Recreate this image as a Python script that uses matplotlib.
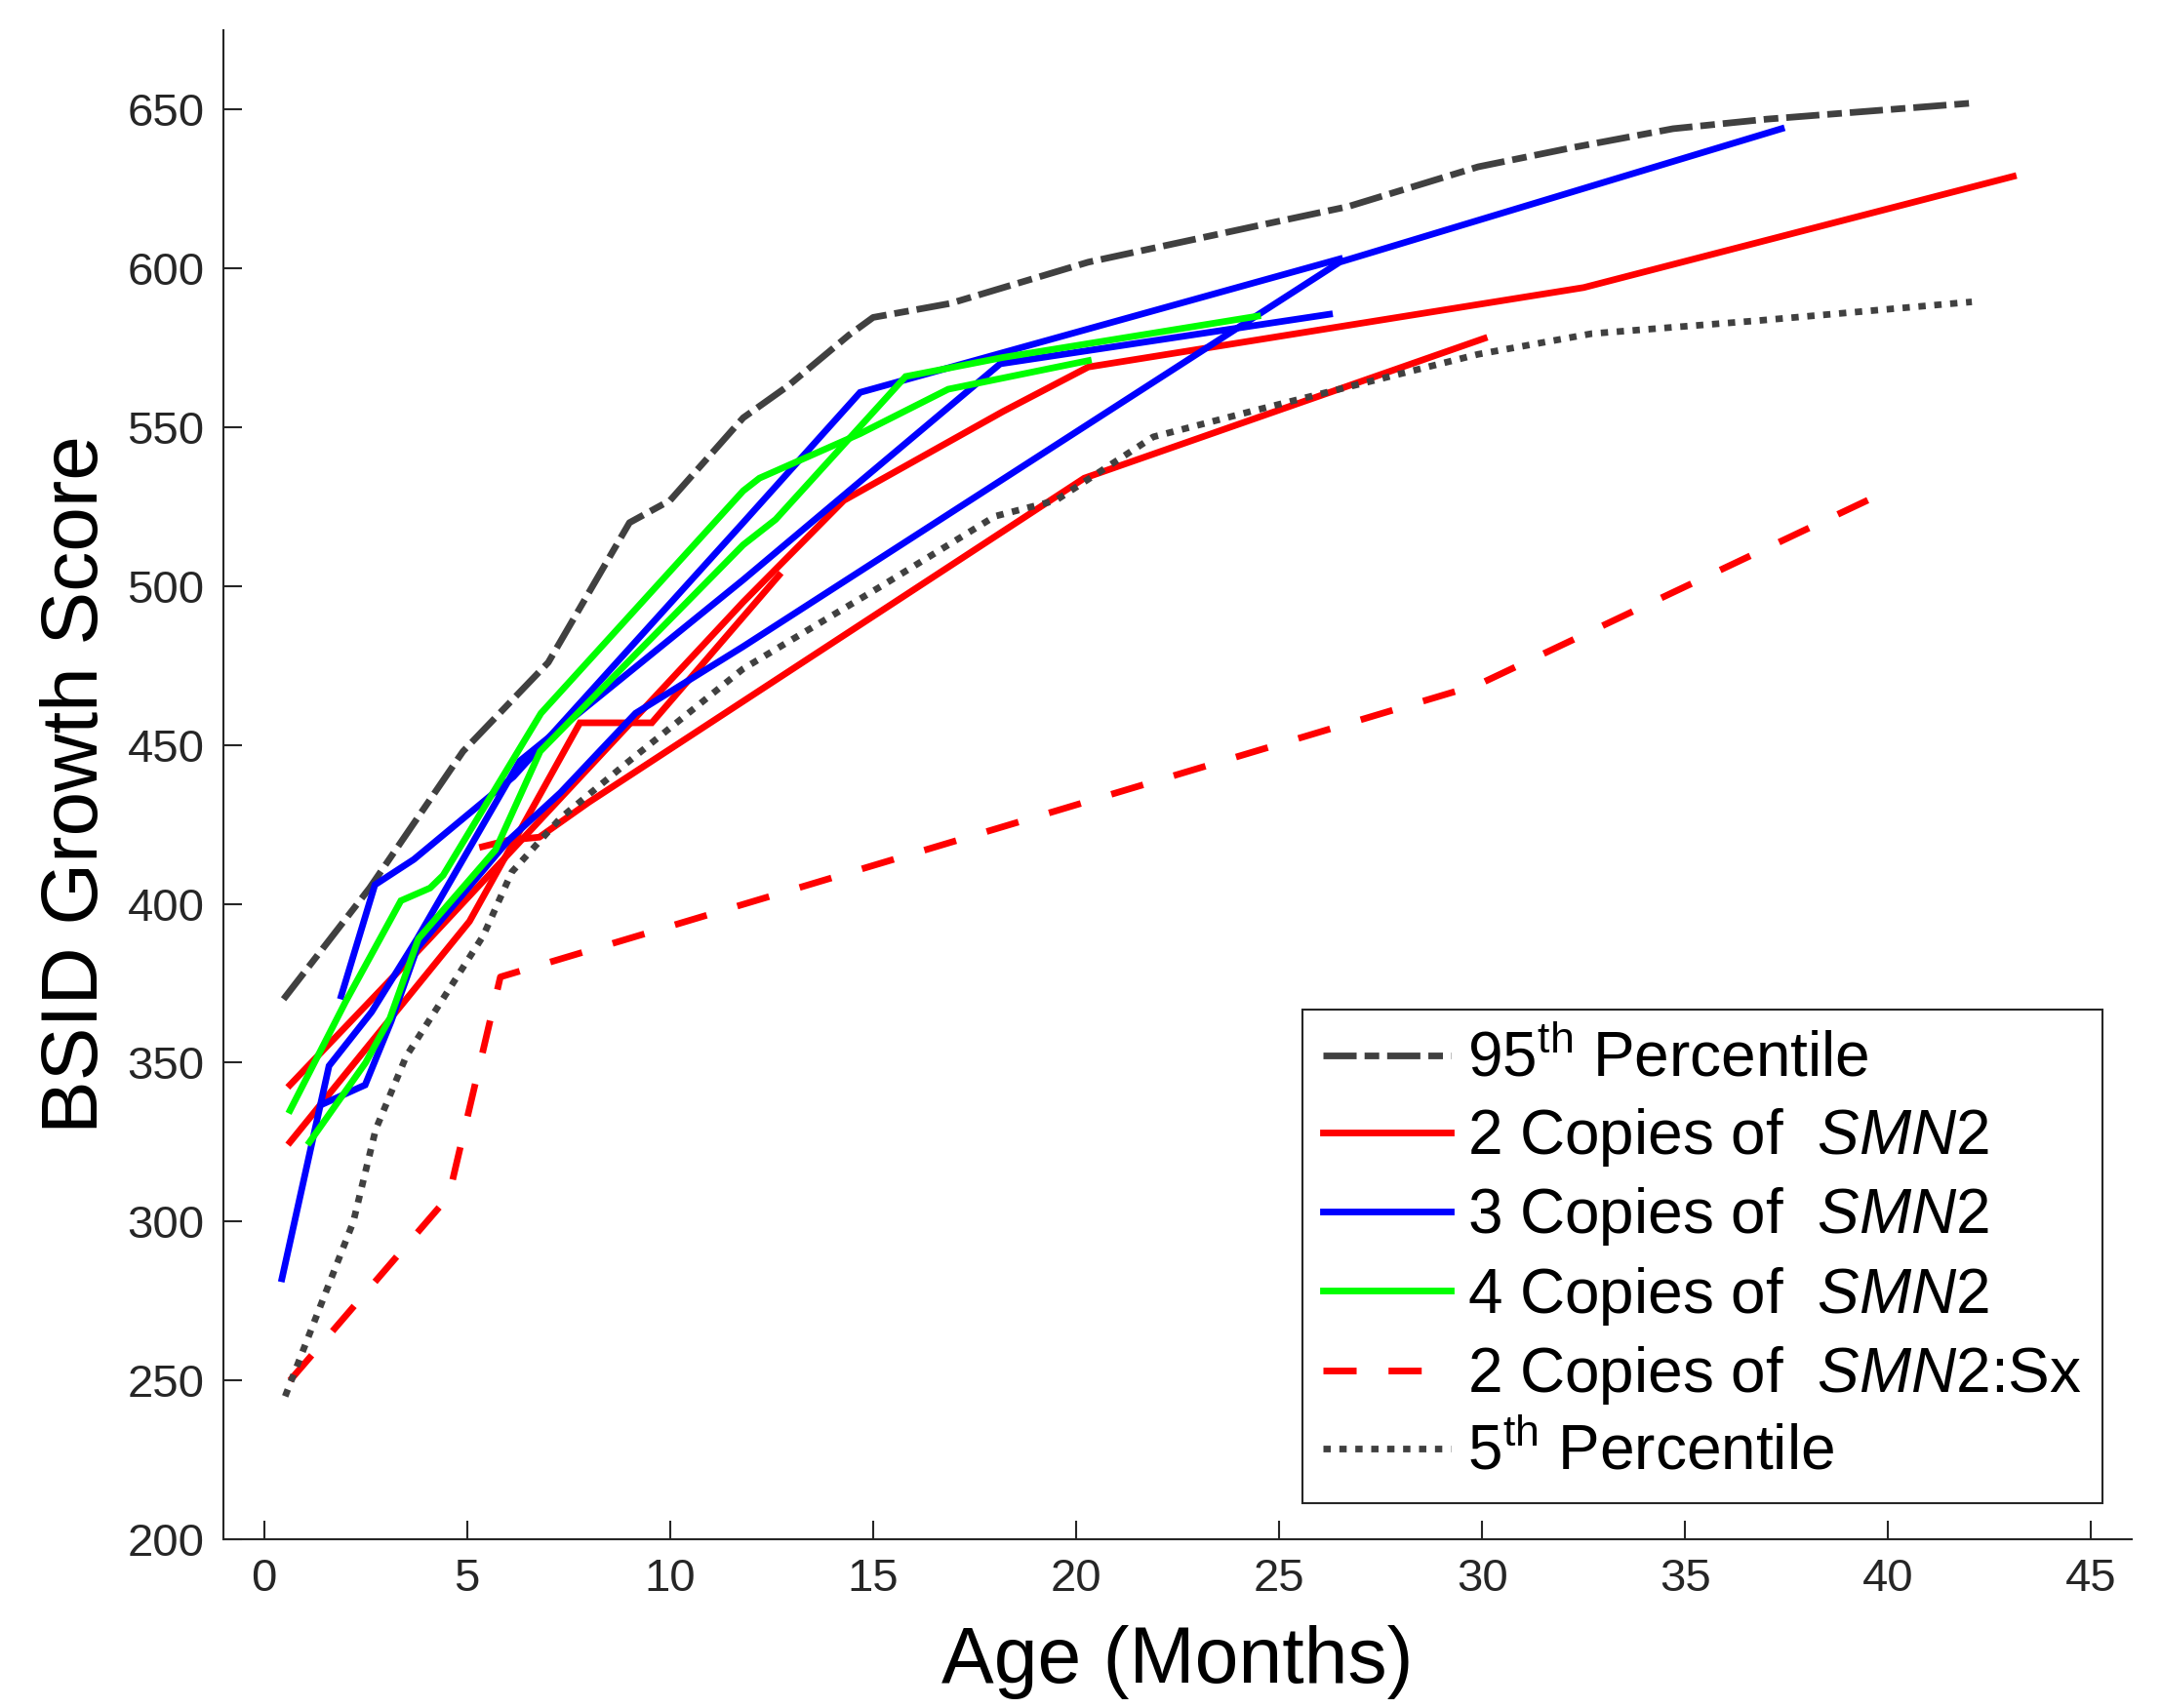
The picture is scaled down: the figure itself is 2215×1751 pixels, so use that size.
import matplotlib
matplotlib.use("Agg")
import matplotlib.pyplot as plt

plt.rcParams['font.family'] = ['Liberation Sans', 'DejaVu Sans']
plt.rcParams['mathtext.fontset'] = 'custom'
plt.rcParams['mathtext.rm'] = 'Liberation Sans'
plt.rcParams['mathtext.it'] = 'Liberation Sans:italic'

# 95th / 5th percentile reference curves
p95_age = [0.48, 2.6, 4.9, 7.0, 9.0, 10.0, 11.8, 12.9, 14.4, 15.0, 16.9, 20.3, 24.3, 26.7, 29.9, 32.2, 34.7, 37.0, 42.0]
p95_score = [370, 405, 448, 476, 520, 527, 553, 563, 579, 584.6, 589, 602, 613, 619.5, 632, 638, 644, 647, 652]

p5_age = [0.52, 2.2, 2.75, 3.5, 4.4, 5.4, 6.1, 7.3, 8.9, 11.8, 15.2, 18.0, 19.5, 21.9, 24.3, 29.9, 32.7, 36.8, 42.06]
p5_score = [245, 300, 329, 352, 370, 390, 410, 427, 444, 474, 500, 522, 527, 547, 555, 573, 579.5, 583.6, 589.5]

# 2 copies of SMN2 (one line per child)
red_ages = [
    [0.64, 4.0, 11.8, 14.28, 18.2, 20.3, 32.5, 43.08],
    [0.64, 5.06, 7.78, 9.55, 12.68],
    [5.38, 6.0, 6.78, 8.0, 20.2, 30.05],
]
red_scores = [
    [343, 388, 495, 527, 555, 569, 594, 629],
    [325, 394.5, 457, 457, 503.4],
    [418, 420, 421, 432, 534, 578],
]

# 3 copies of SMN2
blue_ages = [
    [0.44, 1.6, 2.65, 3.77, 6.3, 11.8, 18.13, 26.24],
    [1.9, 2.73, 3.69, 6.14, 11.8, 14.68, 26.49],
    [1.45, 2.49, 3.13, 3.77, 6.02, 7.3, 8.26, 9.15, 11.8, 26.49, 37.37],
]
blue_scores = [
    [282, 349, 366, 389, 445, 502, 570, 585.6],
    [371, 406, 414, 440, 520, 561, 603],
    [337, 343, 363, 386, 420, 435, 448, 460, 481, 602, 644],
]

# 4 copies of SMN2
green_ages = [
    [0.64, 2.0, 3.37, 4.09, 4.41, 6.82, 11.8, 12.2, 14.68, 16.85, 20.3],
    [1.12, 2.5, 3.1, 3.8, 5.7, 6.8, 11.8, 12.6, 15.8, 18.2, 24.47],
]
green_scores = [
    [335, 369, 401, 405, 409, 460, 530, 534, 548, 562, 571],
    [325, 350, 364, 389, 417, 448, 513, 521, 566, 572, 585],
]

# 2 copies of SMN2:Sx
sx_age = [0.64, 4.55, 5.82, 29.9, 39.65]
sx_score = [250, 308, 377, 469, 528]

x_ticks = list(range(0, 50, 5))
y_ticks = list(range(200, 700, 50))

GRAY = '#404040'
AXC = '#262626'
LW = 4.9

fig = plt.figure(figsize=(22.15, 17.51), dpi=100)
ax = fig.add_axes([0.1034, 0.0988, 0.8831, 0.8835])

h95, = ax.plot(p95_age, p95_score, color=GRAY, lw=LW, linestyle=(0, (5.0, 1.2, 2.2, 1.2)),
               dash_capstyle='butt')
for xs, ys in zip(red_ages, red_scores):
    hr, = ax.plot(xs, ys, color='#ff0000', lw=LW, solid_joinstyle='miter')
for xs, ys in zip(blue_ages, blue_scores):
    hb, = ax.plot(xs, ys, color='#0000ff', lw=LW, solid_joinstyle='miter')
for xs, ys in zip(green_ages, green_scores):
    hg, = ax.plot(xs, ys, color='#00ff00', lw=LW, solid_joinstyle='miter')
hs, = ax.plot(sx_age, sx_score, color='#ff0000', lw=LW, linestyle=(0, (5.0, 4.8)),
              dash_capstyle='butt')
h5, = ax.plot(p5_age, p5_score, color=GRAY, lw=LW, linestyle=(0, (1.1, 1.3)),
              dash_capstyle='butt')

ax.set_xlim(-1, 46)
ax.set_ylim(200, 675)
ax.set_xticks(x_ticks)
ax.set_yticks(y_ticks)
ax.tick_params(direction='in', length=14, width=1.5, colors=AXC, labelsize=34, pad=14)
for s in ['top', 'right']:
    ax.spines[s].set_visible(False)
for s in ['left', 'bottom']:
    ax.spines[s].set_color(AXC)
    ax.spines[s].set_linewidth(1.5)

ax.set_xlabel('Age (Months)', fontsize=58, color='#000000', labelpad=18)
ax.set_ylabel('BSID Growth Score', fontsize=59, color='#000000', labelpad=10)

labels = [r'95$^{\mathrm{th}}$ Percentile',
          r'2 Copies of  $\mathit{SMN2}$',
          r'3 Copies of  $\mathit{SMN2}$',
          r'4 Copies of  $\mathit{SMN2}$',
          r'2 Copies of  $\mathit{SMN2}$:Sx',
          r'5$^{\mathrm{th}}$ Percentile']
leg = ax.legend([h95, hr, hb, hg, hs, h5], labels, loc='lower left',
                bbox_to_anchor=(0.5654, 0.0239), borderaxespad=0, fontsize=46,
                frameon=True, fancybox=False, edgecolor='#262626', framealpha=1,
                handlelength=2.05, handletextpad=0.27, labelspacing=0.27,
                borderpad=0.33)
leg.get_frame().set_linewidth(1.5)

fig.savefig('out.png', dpi=100)
